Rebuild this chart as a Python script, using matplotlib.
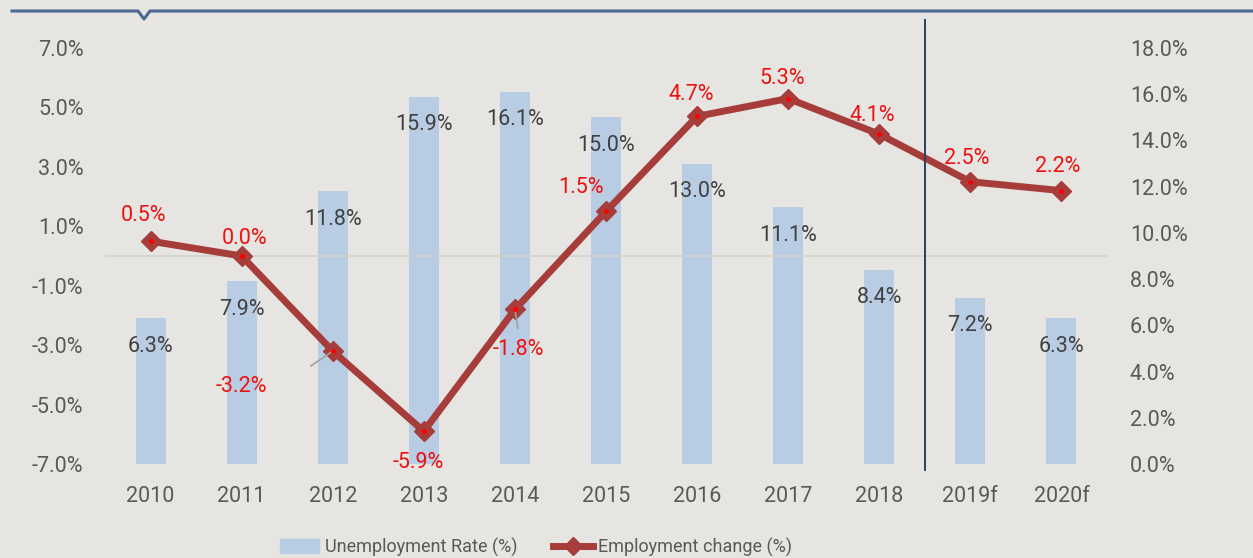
import numpy as np
import matplotlib.pyplot as plt
from matplotlib.lines import Line2D
from matplotlib.patches import Patch

years = ["2010", "2011", "2012", "2013", "2014", "2015", "2016", "2017", "2018", "2019f", "2020f"]
unemploymentRate = [6.3, 7.9, 11.8, 15.9, 16.1, 15.0, 13.0, 11.1, 8.4, 7.2, 6.3]
employmentChange = [0.5, 0.0, -3.2, -5.9, -1.8, 1.5, 4.7, 5.3, 4.1, 2.5, 2.2]

# label offsets in pixels (dx, dy) for the line labels
lineLabelOffsets = [(-7, 26), (3, 17), (-91, -35), (-6, -31), (3, -40), (-25, 24),
                    (-6, 22), (-6, 20), (-7, 19), (-4, 23), (-4, 24)]

bgColor = "#e6e5e1"
barColor = "#b8cde4"
lineColor = "#a63d3b"
textColor = "#595959"
fs = 15.5

plt.rcParams['font.family'] = ['Roboto', 'DejaVu Sans']

fig = plt.figure(figsize=(12.53, 5.58), dpi=100, facecolor=bgColor)
axL = fig.add_axes([105 / 1253, 1 - 464 / 558, 1002 / 1253, 416 / 558])
axR = axL.twinx()

x = np.arange(len(years))

# bars on the right axis, drawn below the line
axR.bar(x, unemploymentRate, width=0.33, color=barColor, zorder=1)
axR.set_ylim(0, 18)
axR.set_yticks(np.arange(0, 18.1, 2))
axR.set_yticklabels([f"{v:.1f}%" for v in np.arange(0, 18.1, 2)])
for xi, v in zip(x, unemploymentRate):
    axR.annotate(f"{v:.1f}%", (xi, v), xytext=(0, -28), textcoords="offset pixels",
                 ha="center", va="center", fontsize=fs, color="#404040")

# put the line axis on top
axL.set_zorder(axR.get_zorder() + 1)
axL.patch.set_visible(False)
axR.patch.set_facecolor(bgColor)

axL.axhline(0, color="#d2d1cd", lw=1.2, zorder=0)
axL.plot(x, employmentChange, color=lineColor, lw=5, marker="D", markersize=10,
         markerfacecolor=lineColor, markeredgecolor=lineColor, zorder=3)
axL.plot(x, employmentChange, ls="none", marker="o", markersize=2.5, color="red", zorder=4)
for xi, v, (dx, dy) in zip(x, employmentChange, lineLabelOffsets):
    axL.annotate(f"{v:.1f}%", (xi, v), xytext=(dx, dy), textcoords="offset pixels",
                 ha="center", va="center", fontsize=fs, color="#ee1111")

# leader lines for the two offset labels
axL.annotate("", (2, employmentChange[2]), xytext=(-22, -15), textcoords="offset pixels",
             arrowprops=dict(arrowstyle="-", color="#a0a0a0", lw=1.2, shrinkA=0, shrinkB=0))
axL.annotate("", (4, employmentChange[4]), xytext=(3, -19), textcoords="offset pixels",
             arrowprops=dict(arrowstyle="-", color="#a0a0a0", lw=1.2, shrinkA=0, shrinkB=0))

axL.set_xlim(-0.5, len(years) - 0.5)
axL.set_ylim(-7, 7)
axL.set_yticks(np.arange(-7, 7.1, 2))
axL.set_yticklabels([f"{v:.1f}%" for v in np.arange(-7, 7.1, 2)])
axL.set_xticks(x)
axL.set_xticklabels(years)

for ax in (axL, axR):
    for s in ax.spines.values():
        s.set_visible(False)
    ax.tick_params(length=0, labelsize=fs, labelcolor=textColor)
axL.tick_params(axis="y", pad=15.5)
axR.tick_params(axis="y", pad=16.5)
axL.tick_params(axis="x", pad=16)

# forecast divider
axL.axvline(8.5, ymin=-0.014, ymax=1.067, color="#2b3f5f", lw=1.4, clip_on=False, zorder=5)

# top banner line with notch
fig.add_artist(Line2D([12 / 1253, 138 / 1253, 144 / 1253, 150 / 1253, 1.0],
                      [1 - 11 / 558, 1 - 11 / 558, 1 - 19 / 558, 1 - 11 / 558, 1 - 11 / 558],
                      color="#4a6a95", lw=2.2, transform=fig.transFigure))

handles = [Patch(color=barColor, label="Unemployment Rate (%)"),
           Line2D([], [], color=lineColor, lw=5, marker="D", markersize=9,
                  markerfacecolor=lineColor, label="Employment change (%)")]
fig.legend(handles=handles, loc="center", bbox_to_anchor=(536 / 1253, 1 - 547 / 558),
           ncol=2, frameon=False, fontsize=13, labelcolor=textColor,
           handlelength=2.2, handleheight=0.8,
           columnspacing=2.0, handletextpad=0.3, borderpad=0.1)

fig.savefig("out.png", facecolor=bgColor)
